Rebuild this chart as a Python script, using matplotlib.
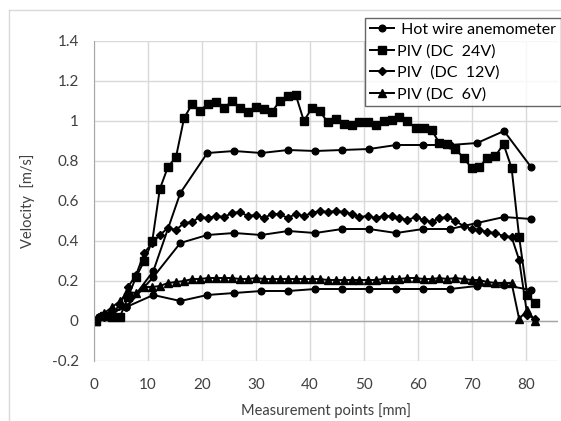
import matplotlib
matplotlib.use("Agg")
import matplotlib.pyplot as plt
from matplotlib.lines import Line2D

plt.rcParams['font.family'] = ['Lato', 'DejaVu Sans']

# hot wire anemometer: measured every 5 mm
hw_x = [1, 6, 11, 16, 21, 26, 31, 36, 41, 46, 51, 56, 61, 66, 71, 76, 81]
hw_high = [0.02, 0.07, 0.25, 0.64, 0.84, 0.85, 0.84, 0.855, 0.85, 0.855, 0.86,
           0.88, 0.88, 0.88, 0.89, 0.95, 0.77]
hw_mid = [0.02, 0.07, 0.22, 0.39, 0.43, 0.44, 0.43, 0.45, 0.44, 0.46, 0.46,
          0.44, 0.46, 0.46, 0.49, 0.52, 0.51]
hw_low = [0.02, 0.07, 0.13, 0.10, 0.13, 0.14, 0.15, 0.15, 0.16, 0.16, 0.16,
          0.16, 0.16, 0.16, 0.175, 0.18, 0.155]

# PIV points
piv_x = [0.4, 1.9, 3.4, 4.8, 6.3, 7.8, 9.3, 10.8, 12.2, 13.7, 15.2, 16.7, 18.2, 19.6,
         21.1, 22.6, 24.1, 25.6, 27.0, 28.5, 30.0, 31.5, 33.0, 34.4, 35.9, 37.4, 38.9,
         40.4, 41.8, 43.3, 44.8, 46.3, 47.8, 49.2, 50.7, 52.2, 53.7, 55.2, 56.6, 58.1,
         59.6, 61.1, 62.6, 64.0, 65.5, 67.0, 68.5, 70.0, 71.4, 72.9, 74.4, 75.9, 77.4,
         78.8, 80.3, 81.8]
piv_24 = [0.0, 0.025, 0.02, 0.02, 0.12, 0.22, 0.30, 0.40,
          0.66, 0.77, 0.82, 1.015, 1.085, 1.05, 1.085, 1.095,
          1.065, 1.10, 1.065, 1.045, 1.07, 1.06, 1.045, 1.10,
          1.125, 1.13, 1.00, 1.065, 1.05, 0.995, 1.01, 0.985,
          0.98, 0.995, 0.995, 0.98, 1.0, 1.005, 1.02, 1.0,
          0.965, 0.965, 0.955, 0.89, 0.885, 0.86, 0.815, 0.765,
          0.77, 0.815, 0.825, 0.885, 0.765, 0.42, 0.13, 0.09]
piv_12 = [0.0, 0.02, 0.04, 0.08, 0.17, 0.23, 0.34, 0.39,
          0.43, 0.465, 0.455, 0.49, 0.495, 0.52, 0.515, 0.525,
          0.52, 0.54, 0.545, 0.525, 0.53, 0.515, 0.535, 0.535,
          0.515, 0.535, 0.525, 0.54, 0.55, 0.545, 0.55, 0.545,
          0.535, 0.52, 0.525, 0.515, 0.525, 0.525, 0.515, 0.505,
          0.52, 0.505, 0.495, 0.515, 0.52, 0.5, 0.475, 0.46,
          0.455, 0.445, 0.44, 0.425, 0.42, 0.305, 0.03, 0.01]
piv_6 = [0.0, 0.04, 0.07, 0.10, 0.145, 0.14, 0.17, 0.17,
         0.175, 0.19, 0.195, 0.20, 0.21, 0.21, 0.215, 0.215,
         0.215, 0.215, 0.21, 0.21, 0.215, 0.21, 0.21, 0.21,
         0.21, 0.21, 0.21, 0.21, 0.21, 0.205, 0.205, 0.205,
         0.205, 0.205, 0.205, 0.205, 0.21, 0.21, 0.21, 0.215,
         0.215, 0.21, 0.21, 0.215, 0.21, 0.215, 0.21, 0.205,
         0.205, 0.195, 0.19, 0.19, 0.19, 0.01, 0.055, 0.0]

x_ticks = [0, 10, 20, 30, 40, 50, 60, 70, 80]
y_ticks = [-0.2, 0, 0.2, 0.4, 0.6, 0.8, 1.0, 1.2, 1.4]
y_labels = ['-0.2', '0', '0.2', '0.4', '0.6', '0.8', '1', '1.2', '1.4']

fig = plt.figure(figsize=(5.61, 4.21), dpi=100)
ax = fig.add_axes([94 / 561, 1 - 361 / 421, 464 / 561, 320 / 421])

lw = 1.4
ax.plot(hw_x, hw_high, color='black', lw=lw, marker='o', ms=4.8, label=' Hot wire anemometer')
ax.plot(piv_x, piv_24, color='black', lw=lw, marker='s', ms=5.2, label='PIV (DC  24V)')
ax.plot(piv_x, piv_12, color='black', lw=lw, marker='D', ms=4.3, label='PIV  (DC  12V)')
ax.plot(piv_x, piv_6, color='black', lw=lw, marker='^', ms=5.2, label='PIV (DC  6V)')
ax.plot(hw_x, hw_mid, color='black', lw=lw, marker='o', ms=4.8)
ax.plot(hw_x, hw_low, color='black', lw=lw, marker='o', ms=4.8)

ax.set_xlim(0, 86)
ax.set_ylim(-0.2, 1.4)
ax.set_xticks(x_ticks)
ax.set_yticks(y_ticks)
ax.set_yticklabels(y_labels)
ax.grid(True, color='#d9d9d9', lw=1)
ax.set_axisbelow(True)
ax.axhline(0, color='#a6a6a6', lw=1, zorder=1)
for s in ['top', 'right', 'bottom']:
    ax.spines[s].set_visible(False)
ax.spines['left'].set_color('#a6a6a6')
ax.tick_params(length=0, labelsize=11, colors='#404040')
ax.tick_params(axis='x', pad=12)
ax.tick_params(axis='y', pad=11)

ax.set_xlabel('Measurement points [mm]', fontsize=10.5, color='#404040', labelpad=8)
ax.set_ylabel('Velocity  [m/s]', fontsize=10.5, color='#404040', labelpad=12)

leg = fig.legend(loc='upper left', bbox_to_anchor=(365 / 561, 1 - 18 / 421),
                 fontsize=11.5, frameon=True, fancybox=False, handlelength=1.5,
                 handletextpad=0.2, labelspacing=0.45, borderpad=0.3,
                 borderaxespad=0)
leg.get_frame().set_edgecolor('#404040')
leg.get_frame().set_linewidth(1)

# chart area border
fig.add_artist(Line2D([9 / 561, 1], [1 - 10 / 421, 1 - 10 / 421], color='#d9d9d9', lw=1))
fig.add_artist(Line2D([9 / 561, 9 / 561], [0, 1 - 10 / 421], color='#d9d9d9', lw=1))

fig.savefig('out.png', dpi=100)
